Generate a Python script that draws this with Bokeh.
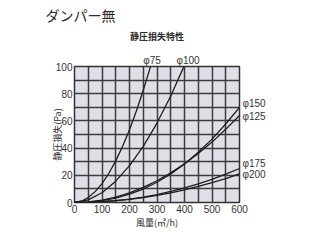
from bokeh.plotting import figure
from bokeh.models import Range1d, FixedTicker, LinearAxis
from bokeh.embed import file_html
from bokeh.resources import INLINE

# Air flow (m3/h) and static pressure loss (Pa)
q_75 = [0, 25, 50, 75, 100, 125, 150, 175, 200, 225, 250, 278]
p_75 = [0, 0.95, 3.6, 8.0, 13.9, 21.5, 30.6, 41.3, 53.5, 67.3, 82.5, 101]

q_100 = [0, 50, 100, 150, 200, 250, 300, 350, 400]
p_100 = [0, 1.9, 7.2, 15.7, 27.1, 41.3, 58.4, 78.3, 101]

q_big = [0, 50, 100, 150, 200, 250, 300, 350, 400, 450, 500, 550, 600]
p_125 = [0, 0.44, 1.8, 4.0, 7.1, 11.1, 16.0, 21.8, 28.4, 36.0, 44.4, 53.8, 64]
p_150 = [0, 0.27, 1.3, 3.2, 6.1, 9.9, 14.9, 21.0, 28.4, 36.9, 46.6, 57.7, 70]
p_175 = [0, 0.14, 0.58, 1.36, 2.5, 4.0, 5.8, 8.1, 10.7, 13.7, 17.0, 20.8, 25]
p_200 = [0, 0.15, 0.58, 1.31, 2.33, 3.65, 5.25, 7.15, 9.33, 11.8, 14.6, 17.6, 21]

x_ticks = [0, 100, 200, 300, 400, 500, 600]
y_ticks = [0, 20, 40, 60, 80, 100]
x_grid = [0, 50, 100, 150, 200, 250, 300, 350, 400, 450, 500, 550, 600]
y_grid = [0, 10, 20, 30, 40, 50, 60, 70, 80, 90, 100]

title_text = "ダンパー無"
subtitle_text = "静圧損失特性"
x_label = "風量(㎥/h)"
y_label = "静圧損失(Pa)"

top_labels = ["φ75", "φ100"]
top_pos = [282, 413]
right_labels = ["φ150", "φ125", "φ175", "φ200"]
right_pos = [72.5, 63.5, 28.5, 20.5]

CJK = "Noto Sans CJK JP"
LAT = "Liberation Sans"
TXT = "#2a2a2a"

p = figure(width=320, height=240, output_backend="svg", toolbar_location=None,
           x_range=Range1d(0, 600), y_range=Range1d(0, 100))
p.min_border_left = 74
p.min_border_right = 81
p.min_border_top = 66
p.min_border_bottom = 38
p.background_fill_color = "#dfdfe7"
p.border_fill_color = "white"
p.outline_line_color = "#333333"
p.outline_line_width = 1.5

p.title.text = title_text
p.title.align = "left"
p.title.offset = -29
p.title.standoff = 4
p.title.text_font = CJK
p.title.text_font_size = "14px"
p.title.text_font_style = "normal"
p.title.text_color = TXT

bottom_axis = p.below[0]
left_axis = p.left[0]
bottom_axis.ticker = FixedTicker(ticks=x_ticks)
left_axis.ticker = FixedTicker(ticks=y_ticks)
p.xgrid.ticker = FixedTicker(ticks=x_grid)
p.ygrid.ticker = FixedTicker(ticks=y_grid)
for g in (p.xgrid, p.ygrid):
    g.grid_line_color = "#3c3c3c"
    g.grid_line_width = 1.5
    g.grid_line_alpha = 1.0

top_axis = LinearAxis(ticker=FixedTicker(ticks=top_pos),
                      major_label_overrides=dict(zip(top_pos, top_labels)))
right_axis = LinearAxis(ticker=FixedTicker(ticks=right_pos),
                        major_label_overrides=dict(zip(right_pos, right_labels)))
p.add_layout(top_axis, "above")
p.add_layout(right_axis, "right")

for ax in (bottom_axis, left_axis, top_axis, right_axis):
    ax.axis_line_color = None
    ax.major_tick_line_color = None
    ax.minor_tick_line_color = None
    ax.major_tick_out = 0
    ax.major_tick_in = 0
    ax.minor_tick_out = 0
    ax.minor_tick_in = 0
    ax.major_label_text_font = LAT
    ax.major_label_text_font_size = "10px"
    ax.major_label_text_color = "#333333"
    ax.axis_label_text_font = CJK
    ax.axis_label_text_font_size = "9px"
    ax.axis_label_text_font_style = "normal"
    ax.axis_label_text_color = TXT

bottom_axis.major_label_standoff = 2
left_axis.major_label_standoff = 2
top_axis.major_label_standoff = 1
right_axis.major_label_standoff = 3

bottom_axis.axis_label = x_label
bottom_axis.axis_label_standoff = 0
left_axis.axis_label = y_label
left_axis.axis_label_standoff = -11
top_axis.axis_label = subtitle_text
top_axis.axis_label_standoff = 9
top_axis.axis_label_text_font_style = "bold"

lc = "#1e1e1e"
p.line(q_75, p_75, line_color=lc, line_width=1.3)
p.line(q_100, p_100, line_color=lc, line_width=1.3)
p.line(q_big, p_125, line_color=lc, line_width=1.3)
p.line(q_big, p_150, line_color=lc, line_width=1.3)
p.line(q_big, p_175, line_color=lc, line_width=1.3)
p.line(q_big, p_200, line_color=lc, line_width=1.3)

open("out.html", "w").write(file_html(p, INLINE))
